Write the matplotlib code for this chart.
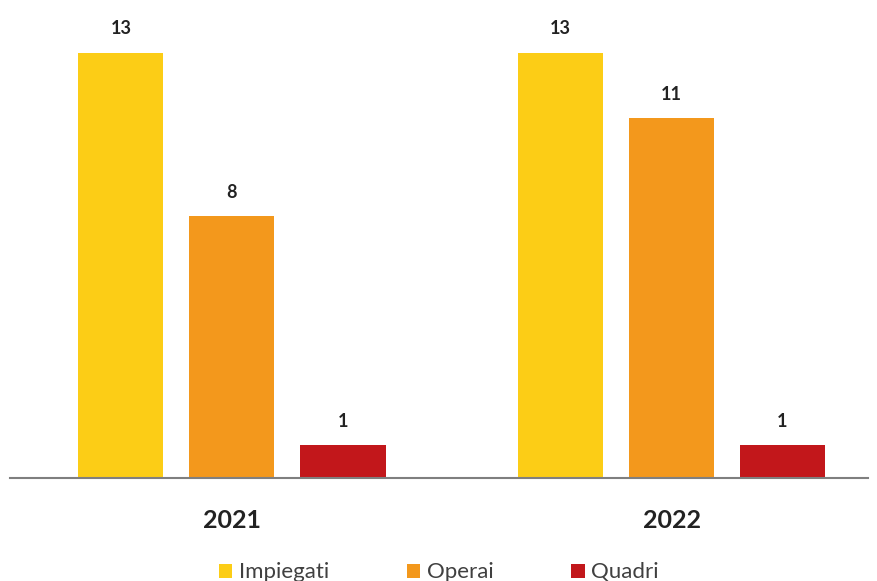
import numpy as np
import matplotlib.pyplot as plt

plt.rcParams['font.family'] = ['Lato', 'DejaVu Sans']

# data
years = ['2021', '2022']
series = ['Impiegati', 'Operai', 'Quadri']
impiegati = [13, 13]
operai = [8, 11]
quadri = [1, 1]
colors = ['#FCCD16', '#F3981C', '#C2171B']

fig = plt.figure(figsize=(8.78, 5.81), dpi=100)
ax = fig.add_axes([10 / 878, 103 / 581, 858 / 878, 458 / 581])

x = np.arange(len(years))
width = 0.1934
offset = 0.2526

for i, (name, vals) in enumerate(zip(series, [impiegati, operai, quadri])):
    bars = ax.bar(x + (i - 1) * offset, vals, width, color=colors[i], label=name)
    for b, v in zip(bars, vals):
        ax.annotate(str(v), (b.get_x() + b.get_width() / 2, v),
                    xytext=(0, 11), textcoords='offset points',
                    ha='center', va='bottom', fontsize=13, fontweight='bold',
                    color='#222222')

ax.set_xlim(-0.505, 1.447)
ax.set_ylim(0, 14)
ax.set_xticks(x)
ax.set_xticklabels(years, fontsize=18, fontweight='bold', color='#222222')
ax.tick_params(axis='x', length=0, pad=22)
ax.set_yticks([])
for s in ['top', 'right', 'left']:
    ax.spines[s].set_visible(False)
ax.spines['bottom'].set_color('#7f7f7f')
ax.spines['bottom'].set_linewidth(1.5)

fig.legend(loc='lower center', ncol=3, frameon=False, fontsize=16,
           bbox_to_anchor=(0.5, -0.037), handlelength=0.6, handleheight=0.6,
           handletextpad=0.3, columnspacing=3.5, labelcolor='#404040')

fig.savefig('out.png', dpi=100)
